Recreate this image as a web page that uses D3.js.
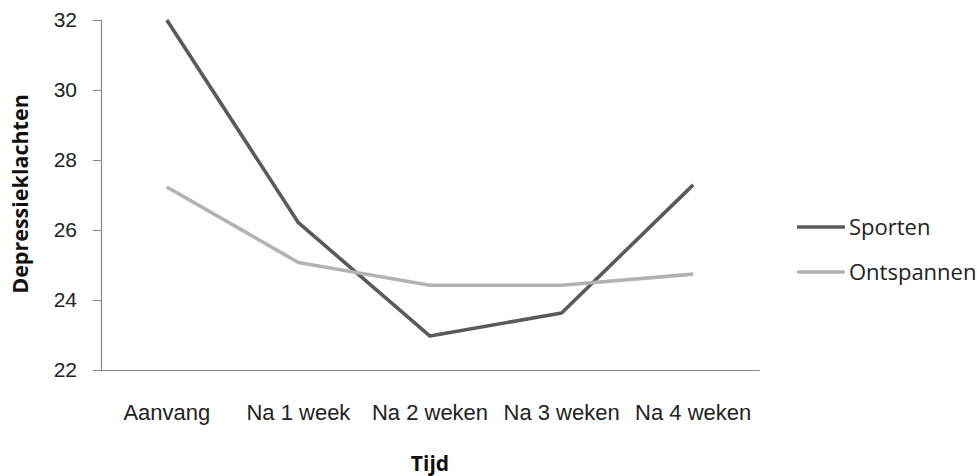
<!DOCTYPE html>
<html>
<head>
<meta charset="utf-8">
<script src="https://cdn.jsdelivr.net/npm/d3@7"></script>
<style>
  html, body { margin: 0; padding: 0; background: #fff; }
  svg { display: block; font-family: "Open Sans", Lato, sans-serif; }
</style>
</head>
<body>
<svg id="chart" width="977" height="476"></svg>
<script>
// Depression complaints over time for two intervention groups
const categories = ["Aanvang", "Na 1 week", "Na 2 weken", "Na 3 weken", "Na 4 weken"];
const sporten = [32.0, 26.21, 22.97, 23.63, 27.29];
const ontspannen = [27.23, 25.07, 24.42, 24.42, 24.74];
const seriesNames = ["Sporten", "Ontspannen"];
const seriesColors = ["#5a5a5a", "#b2b2b2"];
const yTicks = [22, 24, 26, 28, 30, 32];

const series = [sporten, ontspannen];

const svg = d3.select("#chart");
const margin = { left: 101, right: 218, top: 20, bottom: 106 };
const width = 977 - margin.left - margin.right;
const height = 476 - margin.top - margin.bottom;

const g = svg.append("g").attr("transform", `translate(${margin.left},${margin.top})`);

const x = d3.scaleBand().domain(categories).range([0, width]);
const y = d3.scaleLinear().domain([22, 32]).range([height, 0]);

// Y axis
const yAxis = g.append("g")
  .call(d3.axisLeft(y).tickValues(yTicks).tickSize(8).tickPadding(16).tickFormat(d3.format("d")));
yAxis.select(".domain").attr("stroke", "#888").attr("stroke-width", 1.2);
yAxis.selectAll(".tick line").attr("stroke", "#888");
yAxis.selectAll(".tick text").attr("fill", "#222").style("font-size", "21px");

// X axis
const xAxis = g.append("g")
  .attr("transform", `translate(0,${height})`)
  .call(d3.axisBottom(x).tickSize(0).tickPadding(34));
xAxis.select(".domain").attr("stroke", "#888").attr("stroke-width", 1.2);
xAxis.selectAll(".tick text").attr("fill", "#222").style("font-size", "22px");

// Lines
const line = d3.line()
  .x((d, i) => x(categories[i]) + x.bandwidth() / 2)
  .y(d => y(d));

series.forEach((vals, k) => {
  g.append("path")
    .datum(vals)
    .attr("fill", "none")
    .attr("stroke", seriesColors[k])
    .attr("stroke-width", 3.6)
    .attr("stroke-linejoin", "round")
    .attr("d", line);
});

// Axis titles
svg.append("text")
  .attr("transform", `translate(28,${194}) rotate(-90)`)
  .attr("text-anchor", "middle")
  .attr("font-weight", "bold")
  .attr("fill", "#111")
  .style("font-size", "21.5px")
  .text("Depressieklachten");

svg.append("text")
  .attr("x", margin.left + width / 2)
  .attr("y", 471)
  .attr("text-anchor", "middle")
  .attr("font-weight", "bold")
  .attr("fill", "#111")
  .style("font-size", "21px")
  .text("Tijd");

// Legend
const legend = svg.append("g").attr("transform", "translate(797,227)");
seriesNames.forEach((name, k) => {
  const row = legend.append("g").attr("transform", `translate(0,${k * 45})`);
  row.append("line")
    .attr("x1", 0).attr("x2", 48)
    .attr("stroke", seriesColors[k])
    .attr("stroke-width", 3.6);
  row.append("text")
    .attr("x", 52).attr("dy", "0.35em")
    .attr("fill", "#222")
    .style("font-size", "22px")
    .text(name);
});
</script>
</body>
</html>
